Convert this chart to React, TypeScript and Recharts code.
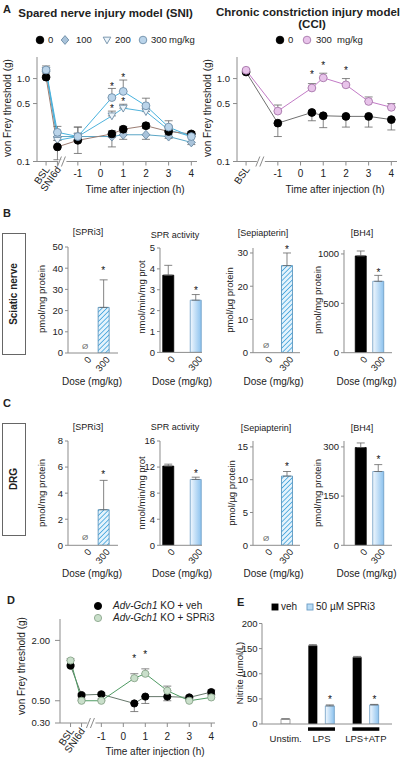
import React from 'react';
import { ComposedChart, Line, Bar, XAxis, YAxis, ErrorBar, ReferenceDot, Cell } from 'recharts';

const FONT = '"Liberation Sans", Arial, Helvetica, sans-serif';
const AXIS = '#8c8c8c';
const INK = '#222';
const ERR = '#666';

// ---- A: time courses ----
const timeTicks = [-2.4, -1.9, -1, 0, 1, 2, 3, 4];
const timeTickLabels = ['BSL', 'SNI6d', '-1', '0', '1', '2', '3', '4'];
const cciTicks = [-2.4, -1, 0, 1, 2, 3, 4];
const cciTickLabels = ['BSL', '-1', '0', '1', '2', '3', '4'];

const sniTimes = [-2.4, -1.9, -1, 0.5, 1, 2, 3, 4];
const sni0 = [1.04, 0.15, 0.18, 0.215, 0.245, 0.27, 0.23, 0.215];
const sni0Lo = [0.04, 0.045, 0.055, 0.02, 0.02, 0.02, 0.02, 0.015];
const sni0Hi = [0.04, 0, 0.08, 0.02, 0.02, 0.02, 0.02, 0.015];
const sni100 = [1.21, 0.2, 0.2, 0.2, 0.21, 0.21, 0.2, 0.17];
const sni100Lo = [0.05, 0.02, 0.02, 0.05, 0.025, 0.025, 0.01, 0.01];
const sni200 = [1.25, 0.18, 0.2, 0.355, 0.44, 0.4, 0.24, 0.2];
const sni200Hi = [0.1, 0.02, 0.02, 0.05, 0.05, 0.04, 0.03, 0.02];
const sni300 = [1.27, 0.225, 0.2, 0.59, 0.7, 0.47, 0.26, 0.2];
const sni300Hi = [0.15, 0.04, 0.06, 0.17, 0.26, 0.11, 0.05, 0.02];
const sniStarT = [0.5, 0.5, 1, 1];
const sniStarY = [0.84, 0.46, 1.1, 0.56];

const cciTimes = [-2.4, -1, 0.5, 1, 2, 3, 4];
const cci0 = [1.2, 0.29, 0.39, 0.356, 0.35, 0.35, 0.32];
const cci0Lo = [0.03, 0.09, 0.08, 0.1, 0.09, 0.09, 0.08];
const cci300 = [1.26, 0.405, 0.77, 1.02, 0.84, 0.53, 0.45];
const cci300Hi = [0.05, 0.075, 0.1, 0.14, 0.16, 0.07, 0.05];
const cciStarT = [0.5, 1, 2];
const cciStarY = [1.17, 1.54, 1.34];

// ---- B / C: doses ----
const doses = ['0', '300'];
const sciSpri3 = [null, 21.5];
const sciSpri3Err = [0, 13];
const sciSpr = [3.7, 2.5];
const sciSprErr = [0.47, 0.27];
const sciSep = [null, 26.2];
const sciSepErr = [0, 3.8];
const sciBh4 = [980, 723];
const sciBh4Err = [50, 60];

const drgSpri3 = [null, 2.73];
const drgSpri3Err = [0, 2.25];
const drgSpr = [12.15, 10.1];
const drgSprErr = [0.3, 0.35];
const drgSep = [null, 10.55];
const drgSepErr = [0, 0.7];
const drgBh4 = [298, 225];
const drgBh4Err = [14, 21];

// ---- D: Adv-Gch1 KO ----
const dTimes = [-2.4, -1.9, -1, 0.5, 1, 2, 3, 4];
const dVeh = [1.12, 0.57, 0.58, 0.47, 0.55, 0.55, 0.54, 0.61];
const dVehLo = [0.03, 0.02, 0.02, 0.08, 0.08, 0.05, 0.02, 0.03];
const dVehHi = [0.03, 0.02, 0.02, 0, 0, 0, 0.02, 0.03];
const dSpri = [1.26, 0.5, 0.5, 0.84, 0.93, 0.63, 0.5, 0.54];
const dSpriHi = [0.05, 0.02, 0.02, 0.09, 0.11, 0.07, 0.03, 0.03];
const dStarT = [0.5, 1];
const dStarY = [1.39, 1.5];

// ---- E: nitrite ----
const eGroups = ['Unstim.', 'LPS', 'LPS+ATP'];
const eVeh = [null, 156, 133];
const eVehErr = [0, 2, 1.5];
const eSpri = [10, 36, 38];
const eSpriErr = [0, 2, 1];
const eStarGroups = ['LPS', 'LPS+ATP'];
const eStarY = [52, 52];

const sniRows = sniTimes.map((t, i) => ({
  t,
  d0: sni0[i], d0e: [sni0Lo[i], sni0Hi[i]],
  d100: sni100[i], d100e: [sni100Lo[i], 0],
  d200: sni200[i], d200e: [0, sni200Hi[i]],
  d300: sni300[i], d300e: [0, sni300Hi[i]],
}));
const cciRows = cciTimes.map((t, i) => ({
  t,
  c0: cci0[i], c0e: [cci0Lo[i], 0],
  c300: cci300[i], c300e: [0, cci300Hi[i]],
}));
const dRows = dTimes.map((t, i) => ({
  t,
  veh: dVeh[i], vehE: [dVehLo[i], dVehHi[i]],
  spri: dSpri[i], spriE: [0, dSpriHi[i]],
}));
const eRows = eGroups.map((g, i) => ({
  g,
  veh: eVeh[i], vehE: eVeh[i] == null ? null : [0, eVehErr[i]],
  spri: eSpri[i], spriE: [0, eSpriErr[i]],
}));

const sniSeries = [
  { key: 'd100', err: 'd100e', shape: 'diamond', line: '#5ba6c6', fill: '#a9c3da', stroke: '#6d8ca6' },
  { key: 'd200', err: 'd200e', shape: 'tri', line: '#50b3dc', fill: '#edf5fb', stroke: '#6d8ca6' },
  { key: 'd0', err: 'd0e', shape: 'dot', line: '#9b7d73', fill: '#000', stroke: '#000' },
  { key: 'd300', err: 'd300e', shape: 'dot', line: '#48b2de', fill: '#bad4ea', stroke: '#6f8fa9' },
];
const cciSeries = [
  { key: 'c0', err: 'c0e', shape: 'dot', line: '#707070', fill: '#000', stroke: '#000' },
  { key: 'c300', err: 'c300e', shape: 'dot', line: '#c27bc6', fill: '#e8c3ea', stroke: '#a777aa' },
];
const dSeries = [
  { key: 'veh', err: 'vehE', shape: 'dot', line: '#66776a', fill: '#000', stroke: '#000' },
  { key: 'spri', err: 'spriE', shape: 'dot', line: '#4f9b63', fill: '#c9dfca', stroke: '#8ba68c' },
];

function Marker({ cx, cy, shape, fill, stroke, r = 3.6 }: any) {
  if (cx == null || cy == null) return null;
  if (shape === 'diamond') {
    return <polygon points={`${cx},${cy - r - 0.6} ${cx + r},${cy} ${cx},${cy + r + 0.6} ${cx - r},${cy}`} fill={fill} stroke={stroke} strokeWidth={0.9} />;
  }
  if (shape === 'tri') {
    return <polygon points={`${cx - r},${cy - r * 0.75} ${cx + r},${cy - r * 0.75} ${cx},${cy + r}`} fill={fill} stroke={stroke} strokeWidth={0.9} />;
  }
  if (shape === 'square') {
    return <rect x={cx - r} y={cy - r} width={r * 2} height={r * 2} fill={fill} stroke={stroke} strokeWidth={0.9} />;
  }
  return <circle cx={cx} cy={cy} r={r} fill={fill} stroke={stroke} strokeWidth={0.9} />;
}

const markShape = (sym: string, dx = 0) => (p: any) => (
  <text x={p.cx + dx} y={p.cy + (sym === '*' ? 5.5 : 3)} textAnchor="middle" fontSize={sym === '*' ? 10 : 8}
    fill={sym === '*' ? '#111' : '#666'} fontFamily={FONT}>{sym}</text>
);

function Txt({ x, y, size = 10, bold = false, align = 'center', rotate = 0, children }: any) {
  const tx = align === 'center' ? '-50%' : align === 'right' ? '-100%' : '0';
  return (
    <div style={{
      position: 'absolute', left: x, top: y, transform: `translate(${tx}, -50%) rotate(${rotate}deg)`,
      fontSize: size, fontWeight: bold ? 700 : 400, whiteSpace: 'nowrap', lineHeight: 1, fontFamily: FONT, color: INK,
    }}>{children}</div>
  );
}

function Glyph({ x, y, shape, fill, stroke, r = 3.6 }: any) {
  return (
    <svg style={{ position: 'absolute', left: x - 6, top: y - 6 }} width={12} height={12}>
      <Marker cx={6} cy={6} shape={shape} fill={fill} stroke={stroke} r={r} />
    </svg>
  );
}

function TimeChart({ left, top, width, height, mTop, mRight, yWidth, plotH, xDomain, yDomain, yTicks, yFmt, ticks, labels,
  breakAt, rows, series, starT, starY, yTickSize, yTickMargin, numDy, dotR }: any) {
  const allTicks = [...ticks, breakAt].sort((a: number, b: number) => a - b);
  const tick = (p: any) => {
    const v = p.payload.value;
    const x = p.x;
    const y = p.y;
    if (v === breakAt) {
      return (
        <g>
          <rect x={x - 4} y={y - 2} width={8} height={4} fill="#fff" />
          <line x1={x - 5} y1={y + 5} x2={x - 1} y2={y - 5} stroke={AXIS} />
          <line x1={x - 1} y1={y + 5} x2={x + 3} y2={y - 5} stroke={AXIS} />
        </g>
      );
    }
    const lab = labels[ticks.indexOf(v)];
    const rotated = isNaN(Number(lab));
    return (
      <g>
        <line x1={x} y1={y} x2={x} y2={y + 4} stroke={AXIS} />
        {rotated ? (
          <text x={x + 4} y={y + 8} textAnchor="end" transform={`rotate(-55 ${x + 4} ${y + 8})`} fontSize={10} fill={INK} fontFamily={FONT}>{lab}</text>
        ) : (
          <text x={x} y={y + numDy} textAnchor="middle" fontSize={10} fill={INK} fontFamily={FONT}>{lab}</text>
        )}
      </g>
    );
  };
  return (
    <div style={{ position: 'absolute', left, top }}>
      <ComposedChart width={width} height={height} data={rows} margin={{ top: mTop, right: mRight, bottom: 0, left: 0 }}>
        <XAxis type="number" dataKey="t" domain={xDomain} allowDataOverflow ticks={allTicks} interval={0} tick={tick}
          tickLine={false} tickSize={0} tickMargin={0} axisLine={{ stroke: AXIS }} height={height - mTop - plotH} />
        <YAxis type="number" scale="log" domain={yDomain} allowDataOverflow ticks={yTicks} interval={0} tickFormatter={yFmt}
          width={yWidth} tickSize={yTickSize} tickMargin={yTickMargin} axisLine={{ stroke: AXIS }} tickLine={{ stroke: AXIS }}
          tick={{ fontSize: 9.5, fill: INK, fontFamily: FONT }} />
        {series.map((s: any) => (
          <Line key={s.key} dataKey={s.key} type="linear" stroke={s.line} strokeWidth={1} isAnimationActive={false} activeDot={false}
            dot={(p: any) => <Marker key={`${s.key}-${p.index}`} cx={p.cx} cy={p.cy} shape={s.shape} fill={s.fill} stroke={s.stroke} r={dotR} />}>
            <ErrorBar dataKey={s.err} direction="y" width={4} stroke={ERR} strokeWidth={0.8} />
          </Line>
        ))}
        {starT.map((t: number, i: number) => (
          <ReferenceDot key={`st-${i}`} x={t} y={starY[i]} r={0} ifOverflow="visible" shape={markShape('*')} />
        ))}
      </ComposedChart>
    </div>
  );
}

const doseTick = (p: any) => (
  <text x={p.x + 7} y={p.y + 7} textAnchor="end" transform={`rotate(-50 ${p.x + 7} ${p.y + 7})`} fontSize={9.5} fill={INK} fontFamily={FONT}>
    {p.payload.value}
  </text>
);

const fillOf = (kind: string, id: string) =>
  kind === 'black' ? '#000' : kind === 'grad' ? `url(#g-${id})` : kind === 'hatch' ? `url(#h-${id})` : '#fff';
const strokeOf = (kind: string) =>
  kind === 'black' ? '#000' : kind === 'grad' ? '#6b9bc3' : kind === 'hatch' ? '#4a8cb8' : '#8a8a8a';

function GradDefs({ id }: any) {
  return (
    <defs>
      <linearGradient id={`g-${id}`} x1="0" y1="0" x2="1" y2="0">
        <stop offset="0" stopColor="#f2f8fe" />
        <stop offset="1" stopColor="#8cc2ee" />
      </linearGradient>
      <pattern id={`h-${id}`} width={3.4} height={3.4} patternUnits="userSpaceOnUse" patternTransform="rotate(45)">
        <rect width={3.4} height={3.4} fill="#e4f3fc" />
        <line x1={0} y1={0} x2={0} y2={3.4} stroke="#49a7dd" strokeWidth={1.7} />
      </pattern>
    </defs>
  );
}

function DoseChart({ id, ax, right, top, bottom, domain, ticks, values, errs, kinds, markX, markY, markSym, pad }: any) {
  const data = doses.map((dose, i) => ({ dose, v: values[i], e: values[i] == null ? null : [0, errs[i]] }));
  const mTop = 10;
  const yW = 30;
  const xH = 22;
  const width = right - ax + yW + 6;
  const height = bottom - top + mTop + xH;
  return (
    <div style={{ position: 'absolute', left: ax - yW, top: top - mTop }}>
      <ComposedChart width={width} height={height} data={data} margin={{ top: mTop, right: 6, bottom: 0, left: 0 }}>
        {GradDefs({ id })}
        <XAxis dataKey="dose" type="category" padding={pad} interval={0} tick={doseTick} tickLine={false} tickSize={0}
          tickMargin={0} axisLine={{ stroke: AXIS }} height={xH} />
        <YAxis type="number" domain={domain} allowDataOverflow ticks={ticks} interval={0} width={yW} tickSize={3} tickMargin={2}
          axisLine={{ stroke: AXIS }} tickLine={{ stroke: AXIS }} tick={{ fontSize: 9.5, fill: INK, fontFamily: FONT }} />
        <Bar dataKey="v" barSize={11} isAnimationActive={false}>
          {data.map((d, i) => <Cell key={d.dose} fill={fillOf(kinds[i], id)} stroke={strokeOf(kinds[i])} strokeWidth={0.8} />)}
          <ErrorBar dataKey="e" direction="y" width={4} stroke={ERR} strokeWidth={0.8} />
        </Bar>
        {markX.map((x: string, i: number) => (
          <ReferenceDot key={`m-${i}`} x={x} y={markY[i]} r={0} ifOverflow="visible" shape={markShape(markSym[i])} />
        ))}
      </ComposedChart>
    </div>
  );
}

const eTick = (p: any) => {
  const v = p.payload.value;
  const stim = v !== 'Unstim.';
  return (
    <g>
      {stim && <rect x={p.x - 13.5} y={p.y + 3.3} width={27} height={3.5} fill="#000" />}
      <text x={stim ? p.x : p.x + 8.5} y={p.y + 17.5} textAnchor="middle" fontSize={9.5} fill={INK} fontFamily={FONT}>{v}</text>
    </g>
  );
};

function NitriteChart() {
  return (
    <div style={{ position: 'absolute', left: 230, top: 600 }}>
      <ComposedChart width={170} height={159} data={eRows} barGap={8} margin={{ top: 23.5, right: 8, bottom: 0, left: 0 }}>
        {GradDefs({ id: 'e' })}
        <XAxis dataKey="g" type="category" padding={{ left: -7, right: 4 }} interval={0} tick={eTick} tickLine={false}
          tickSize={0} tickMargin={0} axisLine={{ stroke: AXIS }} height={35} />
        <YAxis type="number" domain={[0, 200]} allowDataOverflow ticks={[0, 50, 100, 150, 200]} interval={0} width={32}
          tickSize={3} tickMargin={1.5} axisLine={{ stroke: AXIS }} tickLine={{ stroke: AXIS }}
          tick={{ fontSize: 9.5, fill: INK, fontFamily: FONT }} />
        <Bar dataKey="veh" barSize={9} fill="#000" isAnimationActive={false}>
          <ErrorBar dataKey="vehE" direction="y" width={4} stroke={ERR} strokeWidth={0.8} />
        </Bar>
        <Bar dataKey="spri" barSize={9} isAnimationActive={false}>
          {eRows.map((r, i) => (
            <Cell key={r.g} fill={i === 0 ? '#fff' : 'url(#g-e)'} stroke={i === 0 ? '#8a8a8a' : '#6b9bc3'} strokeWidth={0.8} />
          ))}
          <ErrorBar dataKey="spriE" direction="y" width={4} stroke={ERR} strokeWidth={0.8} />
        </Bar>
        {eStarGroups.map((g, i) => (
          <ReferenceDot key={g} x={g} y={eStarY[i]} r={0} ifOverflow="visible" shape={markShape('*', 8.5)} />
        ))}
      </ComposedChart>
    </div>
  );
}

const hatch = ['hatch', 'hatch'];
const solid = ['black', 'grad'];
const padSpri3 = { left: 7.85, right: 5.55 };
const padSpr = { left: -5.25, right: -7.75 };
const padSep = { left: 2.5, right: 2.5 };
const padBh4 = { left: 8.25, right: 4.75 };

export default function App() {
  return (
    <div style={{ position: 'absolute', left: 0, top: 0, width: 400, height: 759, background: '#fff', overflow: 'hidden', fontFamily: FONT }}>
      {/* A */}
      <Txt x={3} y={9} size={11} bold align="left">A</Txt>
      <Txt x={105.5} y={14} size={11.5} bold>Spared nerve injury model (SNI)</Txt>
      <Txt x={308} y={13} size={11.5} bold>Chronic constriction injury model</Txt>
      <Txt x={312} y={25} size={11.5} bold>(CCI)</Txt>

      <Glyph x={40} y={40} shape="dot" fill="#000" stroke="#000" r={3.8} />
      <Txt x={48} y={40} size={9.5} align="left">0</Txt>
      <Glyph x={65} y={40} shape="diamond" fill="#a9c3da" stroke="#6d8ca6" r={3.8} />
      <Txt x={76} y={40} size={9.5} align="left">100</Txt>
      <Glyph x={107} y={40} shape="tri" fill="#edf5fb" stroke="#6d8ca6" r={3.8} />
      <Txt x={115} y={40} size={9.5} align="left">200</Txt>
      <Glyph x={143} y={40} shape="dot" fill="#bad4ea" stroke="#6f8fa9" r={3.8} />
      <Txt x={151} y={40} size={9.5} align="left">300</Txt>
      <Txt x={169} y={40} size={9.5} align="left">mg/kg</Txt>

      <Glyph x={280} y={40} shape="dot" fill="#000" stroke="#000" r={3.8} />
      <Txt x={288} y={40} size={9.5} align="left">0</Txt>
      <Glyph x={307} y={40} shape="dot" fill="#e8c3ea" stroke="#a777aa" r={3.8} />
      <Txt x={316} y={40} size={9.5} align="left">300</Txt>
      <Txt x={337} y={40} size={9.5} align="left">mg/kg</Txt>

      <TimeChart left={0} top={0} width={200} height={200} mTop={57} mRight={3} yWidth={37} plotH={104.5}
        xDomain={[-2.8, 4.25]} yDomain={[0.1, 1.82]} yTicks={[0.1, 0.5, 1]} yFmt={(v: number) => v.toFixed(1)}
        ticks={timeTicks} labels={timeTickLabels} breakAt={-1.68} rows={sniRows} series={sniSeries}
        starT={sniStarT} starY={sniStarY} yTickSize={4} yTickMargin={3} numDy={15} dotR={3.9} />
      <TimeChart left={200} top={0} width={200} height={200} mTop={57} mRight={3} yWidth={37} plotH={104.5}
        xDomain={[-2.8, 4.25]} yDomain={[0.1, 1.82]} yTicks={[0.1, 0.5, 1]} yFmt={(v: number) => v.toFixed(1)}
        ticks={cciTicks} labels={cciTickLabels} breakAt={-1.75} rows={cciRows} series={cciSeries}
        starT={cciStarT} starY={cciStarY} yTickSize={4} yTickMargin={3} numDy={15} dotR={3.9} />
      <Txt x={8} y={108} rotate={-90}>von Frey threshold (g)</Txt>
      <Txt x={208} y={108} rotate={-90}>von Frey threshold (g)</Txt>
      <Txt x={135} y={190}>Time after injection (h)</Txt>
      <Txt x={335} y={190}>Time after injection (h)</Txt>

      {/* B */}
      <Txt x={3} y={213} size={11} bold align="left">B</Txt>
      <div style={{ position: 'absolute', left: 2, top: 233, width: 22, height: 120, border: '1px solid #666' }} />
      <Txt x={13.5} y={293.5} bold rotate={-90}>Sciatic nerve</Txt>
      <Txt x={88} y={232} size={9}>[SPRi3]</Txt>
      <Txt x={175} y={235} size={9}>SPR activity</Txt>
      <Txt x={263} y={233} size={9}>[Sepiapterin]</Txt>
      <Txt x={362} y={233} size={9}>[BH4]</Txt>
      <Txt x={42} y={299} size={9.5} rotate={-90}>pmol/mg protein</Txt>
      <Txt x={142} y={297} size={9.5} rotate={-90}>nmol/min/mg prot</Txt>
      <Txt x={230} y={300} size={9.5} rotate={-90}>pmol/µg protein</Txt>
      <Txt x={318} y={300} size={9.5} rotate={-90}>pmol/mg protein</Txt>
      <DoseChart id="b1" ax={68} right={118} top={246.7} bottom={352.7} domain={[0, 50]} ticks={[0, 10, 20, 30, 40, 50]}
        values={sciSpri3} errs={sciSpri3Err} kinds={hatch} markX={['0', '300']} markY={[3.5, 40]} markSym={['Ø', '*']} pad={padSpri3} />
      <DoseChart id="b2" ax={160} right={202} top={248.3} bottom={352.7} domain={[0, 5]} ticks={[0, 1, 2, 3, 4, 5]}
        values={sciSpr} errs={sciSprErr} kinds={solid} markX={['300']} markY={[3.05]} markSym={['*']} pad={padSpr} />
      <DoseChart id="b3" ax={253} right={300} top={248} bottom={352.7} domain={[0, 31.5]} ticks={[0, 10, 20, 30]}
        values={sciSep} errs={sciSepErr} kinds={hatch} markX={['0', '300']} markY={[2.2, 31.6]} markSym={['Ø', '*']} pad={padSep} />
      <DoseChart id="b4" ax={344} right={392} top={250} bottom={352.7} domain={[0, 1040]} ticks={[0, 500, 1000]}
        values={sciBh4} errs={sciBh4Err} kinds={solid} markX={['300']} markY={[830]} markSym={['*']} pad={padBh4} />
      <Txt x={92} y={382}>Dose (mg/kg)</Txt>
      <Txt x={182} y={382}>Dose (mg/kg)</Txt>
      <Txt x={273.5} y={382}>Dose (mg/kg)</Txt>
      <Txt x={366.5} y={382}>Dose (mg/kg)</Txt>

      {/* C */}
      <Txt x={3} y={403} size={11} bold align="left">C</Txt>
      <div style={{ position: 'absolute', left: 2, top: 423, width: 22, height: 111, border: '1px solid #666' }} />
      <Txt x={13.5} y={479} bold rotate={-90}>DRG</Txt>
      <Txt x={88} y={427} size={9}>[SPRi3]</Txt>
      <Txt x={175} y={427} size={9}>SPR activity</Txt>
      <Txt x={266} y={428} size={9}>[Sepiapterin]</Txt>
      <Txt x={362} y={428} size={9}>[BH4]</Txt>
      <Txt x={42} y={493} size={9.5} rotate={-90}>pmol/mg protein</Txt>
      <Txt x={142} y={493} size={9.5} rotate={-90}>nmol/min/mg prot</Txt>
      <Txt x={232} y={493} size={9.5} rotate={-90}>pmol/µg protein</Txt>
      <Txt x={318} y={493} size={9.5} rotate={-90}>pmol/mg protein</Txt>
      <DoseChart id="c1" ax={68} right={118} top={440.7} bottom={545} domain={[0, 8]} ticks={[0, 2, 4, 6, 8]}
        values={drgSpri3} errs={drgSpri3Err} kinds={hatch} markX={['0', '300']} markY={[0.6, 5.6]} markSym={['Ø', '*']} pad={padSpri3} />
      <DoseChart id="c2" ax={160} right={202} top={440.7} bottom={545} domain={[0, 16]} ticks={[0, 4, 8, 12, 16]}
        values={drgSpr} errs={drgSprErr} kinds={solid} markX={['300']} markY={[11.3]} markSym={['*']} pad={padSpr} />
      <DoseChart id="c3" ax={253} right={300} top={440.7} bottom={545} domain={[0, 15.9]} ticks={[0, 5, 10, 15]}
        values={drgSep} errs={drgSepErr} kinds={hatch} markX={['0', '300']} markY={[1.1, 12.3]} markSym={['Ø', '*']} pad={padSep} />
      <DoseChart id="c4" ax={344} right={392} top={440.7} bottom={545} domain={[0, 318]} ticks={[0, 150, 300]}
        values={drgBh4} errs={drgBh4Err} kinds={solid} markX={['300']} markY={[268]} markSym={['*']} pad={padBh4} />
      <Txt x={92} y={574}>Dose (mg/kg)</Txt>
      <Txt x={182} y={574}>Dose (mg/kg)</Txt>
      <Txt x={273.5} y={574}>Dose (mg/kg)</Txt>
      <Txt x={366.5} y={574}>Dose (mg/kg)</Txt>

      {/* D */}
      <Txt x={7} y={600} size={11} bold align="left">D</Txt>
      <Glyph x={98} y={606} shape="dot" fill="#000" stroke="#000" />
      <Txt x={113} y={606} align="left"><i>Adv-Gch1</i> KO + veh</Txt>
      <Glyph x={98} y={618} shape="dot" fill="#c9dfca" stroke="#8ba68c" />
      <Txt x={113} y={618} align="left"><i>Adv-Gch1</i> KO + SPRi3</Txt>
      <TimeChart left={0} top={590} width={240} height={169} mTop={29} mRight={25} yWidth={60} plotH={104}
        xDomain={[-2.88, 4.17]} yDomain={[0.3, 3.27]} yTicks={[0.3, 0.5, 2]} yFmt={(v: number) => v.toFixed(2)}
        ticks={timeTicks} labels={timeTickLabels} breakAt={-1.45} rows={dRows} series={dSeries}
        starT={dStarT} starY={dStarY} yTickSize={5} yTickMargin={5} numDy={17} dotR={3.6} />
      <Txt x={22} y={666} rotate={-90}>von Frey threshold (g)</Txt>
      <Txt x={155} y={752}>Time after injection (h)</Txt>

      {/* E */}
      <Txt x={237} y={602} size={11} bold align="left">E</Txt>
      <Glyph x={275} y={607} shape="square" fill="#000" stroke="#000" r={3} />
      <Txt x={281} y={607} align="left">veh</Txt>
      <Glyph x={310} y={607} shape="square" fill="#b9dcf6" stroke="#6b9bc3" r={3} />
      <Txt x={316} y={607} align="left">50 µM SPRi3</Txt>
      <NitriteChart />
      <Txt x={240} y={673} size={9.5} rotate={-90}>Nitrite (umol/L)</Txt>
    </div>
  );
}
